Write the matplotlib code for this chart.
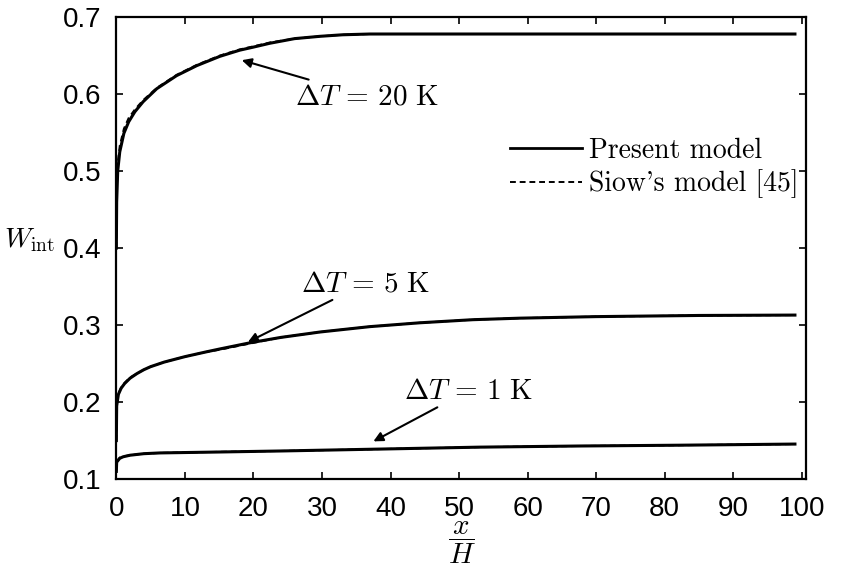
import matplotlib
matplotlib.use('Agg')
import matplotlib.pyplot as plt
import numpy as np

plt.rcParams['mathtext.fontset'] = 'cm'
plt.rcParams['font.family'] = ['Liberation Sans', 'DejaVu Sans']

# x/H stations and interface values W_int for each wall temperature difference
x_20 = [0.0, 0.05, 0.2, 0.5, 1.1, 1.8, 2.7, 3.9, 5.9, 8.8, 11.75, 15.1, 18.0, 20.0, 22.4, 26.0, 29.7, 33.0, 37.0, 45.0, 60.0, 80.0, 99.0]
w_20 = [0.40, 0.46, 0.50, 0.525, 0.549, 0.564, 0.577, 0.590, 0.607, 0.624, 0.637, 0.649, 0.657, 0.661, 0.666, 0.672, 0.675, 0.677, 0.678, 0.678, 0.678, 0.678, 0.678]
w_20_siow = [0.40, 0.47, 0.51, 0.533, 0.555, 0.569, 0.580, 0.592, 0.608, 0.625, 0.638, 0.650, 0.658, 0.662, 0.667, 0.672, 0.675, 0.677, 0.678, 0.678, 0.678, 0.678, 0.678]

x_5 = [0.0, 0.05, 0.3, 0.7, 1.2, 2.0, 3.0, 4.0, 5.0, 7.0, 10.0, 13.0, 15.1, 19.5, 24.0, 29.7, 37.0, 44.3, 52.0, 58.9, 70.0, 85.0, 99.0]
w_5 = [0.15, 0.195, 0.210, 0.218, 0.224, 0.231, 0.237, 0.242, 0.246, 0.252, 0.259, 0.265, 0.269, 0.277, 0.284, 0.291, 0.298, 0.303, 0.307, 0.309, 0.311, 0.3125, 0.313]
w_5_siow = [0.15, 0.197, 0.211, 0.219, 0.225, 0.232, 0.237, 0.242, 0.246, 0.252, 0.259, 0.265, 0.268, 0.276, 0.284, 0.291, 0.298, 0.303, 0.307, 0.309, 0.311, 0.3125, 0.313]

x_1 = [0.0, 0.05, 0.5, 1.0, 2.0, 4.0, 6.4, 13.7, 23.9, 38.5, 53.0, 67.7, 82.0, 99.0]
w_1 = [0.11, 0.122, 0.127, 0.129, 0.131, 0.133, 0.134, 0.135, 0.1365, 0.139, 0.1415, 0.143, 0.144, 0.1455]
w_1_siow = [0.11, 0.123, 0.128, 0.1295, 0.131, 0.133, 0.134, 0.1352, 0.1365, 0.139, 0.1415, 0.143, 0.144, 0.1455]

# annotation labels: (text, text anchor, arrow tip)
labels = [r'$\Delta T \,=\, 20\ \mathrm{K}$', r'$\Delta T \,=\, 5\ \mathrm{K}$', r'$\Delta T \,=\, 1\ \mathrm{K}$']
label_xy = [(26.0, 0.597), (27.0, 0.3545), (42.0, 0.215)]
arrow_xy = [(18.3, 0.644), (19.2, 0.278), (37.5, 0.149)]

fig = plt.figure(figsize=(8.43, 5.69), dpi=100)
ax = fig.add_axes([0.138, 0.158, 0.818, 0.812])

for xs, ws, wsiow in [(x_20, w_20, w_20_siow), (x_5, w_5, w_5_siow), (x_1, w_1, w_1_siow)]:
    ax.plot(xs, ws, color='black', lw=2.2, solid_joinstyle='round')
    ax.plot(xs, wsiow, color='black', lw=1.4, ls=(0, (3, 2)))

# legend entries
ax.plot([], [], color='black', lw=2.0, label='Present model')
ax.plot([], [], color='black', lw=1.4, ls=(0, (3, 2)), label="Siow's model [45]")

for txt, xy, tip in zip(labels, label_xy, arrow_xy):
    ax.annotate(txt, xy=tip, xytext=xy, fontsize=21, va='center', ha='left',
                arrowprops=dict(arrowstyle='-|>', color='black', lw=1.5,
                                mutation_scale=14, shrinkA=0, shrinkB=0))

ax.set_xlim(0, 100.6)
ax.set_ylim(0.1, 0.7)
ax.set_xticks(np.arange(0, 101, 10))
ax.set_yticks(np.arange(0.1, 0.71, 0.1))
ax.tick_params(direction='in', length=5, width=1.2, top=True, right=True,
               labelsize=20)
ax.tick_params(axis='x', pad=12)
ax.tick_params(axis='y', pad=11)
for s in ax.spines.values():
    s.set_linewidth(1.6)

ax.set_xlabel(r'$\dfrac{x}{H}$', fontsize=21, va='center')
ax.xaxis.set_label_coords(0.501, -0.138)
ax.set_ylabel(r'$W_{\mathrm{int}}$', fontsize=20, rotation=0, va='center', ha='center')
ax.yaxis.set_label_coords(-0.126, 0.517)

leg = ax.legend(loc='upper left', bbox_to_anchor=(0.571, 0.739), frameon=False,
                prop={'family': 'cmr10', 'size': 20}, handlelength=2.6,
                handletextpad=0.25, labelspacing=0.2, borderpad=0, borderaxespad=0)

fig.savefig('out.png', dpi=100)
